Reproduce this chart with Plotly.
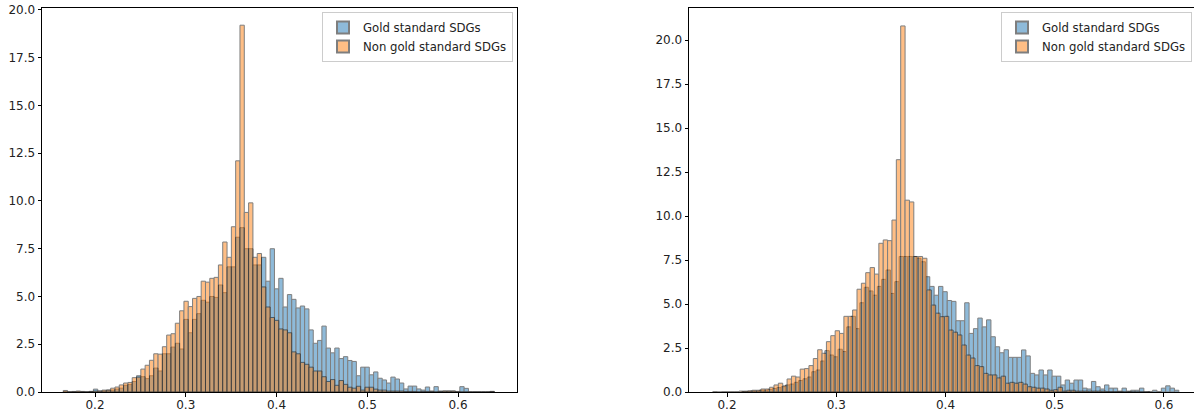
import plotly.graph_objects as go

# ---------------- data (density histograms, 100 bins each) ----------------
# Left panel
left_bin_start = 0.165
left_bin_width = 0.00475
left_gold = [
    0, 0, 0, 0, 0, 0, 0.03, 0.15, 0.05, 0.05,
    0.1, 0.1, 0.15, 0.2, 0.35, 0.4, 0.55, 0.85, 0.8, 0.7,
    0.85, 1.25, 1.1, 2.0, 2.0, 2.35, 2.55, 2.25, 3.8, 3.1,
    3.8, 4.1, 4.8, 4.7, 5.0, 4.95, 5.6, 5.2, 6.55, 6.55,
    8.1, 8.6, 7.5, 7.5, 6.65, 6.65, 7.05, 5.8, 7.5, 5.4,
    5.95, 4.45, 5.1, 4.85, 4.4, 4.5, 4.35, 3.25, 2.55, 2.7,
    3.45, 2.3, 2.05, 2.3, 1.75, 1.85, 1.65, 1.6, 0.85, 1.3,
    1.3, 0.9, 1.05, 0.72, 0.63, 0.47, 0.78, 0.68, 0.47, 0.16,
    0.31, 0.31, 0.16, 0.1, 0.26, 0.05, 0.28, 0.05, 0.05, 0.05,
    0.05, 0, 0.28, 0.19, 0, 0, 0, 0, 0, 0.03,
]
left_non_gold = [
    0.08, 0, 0.03, 0.05, 0.03, 0, 0.03, 0.05, 0.05, 0.1,
    0.1, 0.2, 0.26, 0.37, 0.47, 0.5, 0.75, 0.78, 1.2, 1.4,
    1.66, 2.0, 1.98, 2.37, 2.98, 3.05, 3.6, 4.25, 4.75, 4.47,
    4.9, 5.0, 5.8, 5.75, 5.95, 6.0, 6.65, 7.85, 7.05, 8.65,
    12.1, 19.2, 9.4, 9.9, 7.05, 7.25, 5.5, 4.45, 3.9, 3.75,
    3.3, 3.25, 3.1, 2.1, 2.0, 1.55, 1.45, 1.3, 1.1, 1.1,
    0.8, 0.55, 0.65, 0.35, 0.6, 0.4, 0.25, 0.2, 0.3, 0.1,
    0.25, 0.25, 0.15, 0.1, 0.1, 0.05, 0.05, 0.05, 0.05, 0.03,
    0.03, 0.03, 0, 0.03, 0.03, 0.03, 0, 0.03, 0.05, 0.05,
    0.05, 0.03, 0, 0, 0, 0, 0, 0, 0, 0.03,
]

# Right panel
right_gold_bin_start = 0.2136
right_gold_bin_width = 0.004
right_gold = [
    0.02, 0.02, 0.05, 0.05, 0.1, 0.1, 0.15, 0.2, 0.25, 0.3,
    0.4, 0.45, 0.55, 0.65, 0.75, 0.85, 1.15, 1.25, 1.76, 2.35,
    2.1, 2.0, 2.43, 2.3, 3.7, 4.3, 3.6, 5.07, 5.95, 5.74,
    5.5, 6.0, 6.4, 6.93, 5.6, 6.27, 7.7, 7.7, 7.7, 7.7,
    7.6, 7.4, 6.55, 6.0, 5.5, 6.0, 5.7, 5.2, 5.15, 4.05,
    4.05, 5.07, 3.33, 3.6, 4.2, 3.7, 4.1, 3.14, 2.57, 2.23,
    2.4, 1.97, 1.97, 1.97, 2.39, 2.05, 1.06, 0.97, 1.25, 0.97,
    1.25, 0.9, 0.9, 0.4, 0.68, 0.5, 0.68, 0.68, 0.22, 0.17,
    0.6, 0.3, 0.17, 0.4, 0.22, 0.22, 0.05, 0.22, 0.05, 0.1,
    0.1, 0.22, 0, 0.03, 0.1, 0.03, 0.22, 0.35, 0.22, 0.1,
]
right_non_gold_bin_start = 0.187
right_non_gold_bin_width = 0.004
right_non_gold = [
    0.02, 0, 0.02, 0.02, 0.02, 0.02, 0.05, 0.05, 0.07, 0.1,
    0.1, 0.17, 0.17, 0.27, 0.4, 0.5, 0.35, 0.74, 0.9, 0.85,
    1.3, 1.33, 1.5, 1.9, 2.4, 2.2, 2.86, 3.2, 3.48, 3.33,
    4.3, 4.3, 4.66, 5.84, 6.18, 6.78, 7.07, 6.7, 8.45, 8.64,
    8.6, 9.77, 13.2, 20.8, 10.9, 10.8, 7.7, 7.7, 7.6, 5.8,
    4.94, 4.48, 4.28, 4.3, 3.52, 3.4, 3.24, 2.67, 2.1, 1.93,
    1.5, 1.44, 1.06, 0.97, 0.97, 0.8, 0.9, 0.5, 0.55, 0.5,
    0.55, 0.45, 0.3, 0.27, 0.22, 0.22, 0.17, 0.1, 0.13, 0.27,
    0.05, 0.1, 0.1, 0.05, 0.05, 0.05, 0.05, 0.05, 0.05, 0.05,
    0.02, 0.02, 0.02, 0.02, 0, 0.02, 0, 0, 0, 0,
]

series_names = ["Gold standard SDGs", "Non gold standard SDGs"]
series_colors = ["#1f77b4", "#ff7f0e"]

# ---------------- figure ----------------
W, H = 1194, 412


def centers(start, width, vals):
    return [start + width * (k + 0.5) for k in range(len(vals))]


fig = go.Figure()

panels = [
    dict(xa="x", ya="y", legend="legend",
         data=[(left_bin_start, left_bin_width, left_gold),
               (left_bin_start, left_bin_width, left_non_gold)]),
    dict(xa="x2", ya="y2", legend="legend2",
         data=[(right_gold_bin_start, right_gold_bin_width, right_gold),
               (right_non_gold_bin_start, right_non_gold_bin_width, right_non_gold)]),
]

for p in panels:
    for (start, width, vals), name, color in zip(p["data"], series_names, series_colors):
        fig.add_trace(go.Bar(
            x=centers(start, width, vals), y=vals, width=width,
            name=name, marker=dict(color=color, line=dict(color="black", width=1)),
            opacity=0.5, xaxis=p["xa"], yaxis=p["ya"], legend=p["legend"],
            hoverinfo="x+y",
        ))

axis_common = dict(showline=True, linecolor="black", linewidth=1, mirror=True,
                   ticks="outside", ticklen=3.5, tickwidth=1, tickcolor="black",
                   showgrid=False, zeroline=False, automargin=False,
                   ticklabeloverflow="allow",
                   tickfont=dict(family="DejaVu Sans", size=12, color="#222222"))
xaxis_extra = dict(tick0=0.2, dtick=0.1, tickformat=".1f", ticklabelstandoff=-2)
yaxis_extra = dict(tick0=0, dtick=2.5, tickformat=".1f")

ydom = [(H - 392) / H, (H - 8) / H]
legend_style = dict(bgcolor="rgba(255,255,255,0.8)", bordercolor="#cccccc", borderwidth=1,
                    font=dict(family="DejaVu Sans", size=11.7, color="#222222"),
                    tracegroupgap=0, itemsizing="constant",
                    xanchor="right", yanchor="top", y=(H - 12) / H)

fig.update_layout(
    width=W, height=H,
    margin=dict(l=0, r=0, t=0, b=0, autoexpand=False),
    paper_bgcolor="white", plot_bgcolor="white",
    barmode="overlay",
    font=dict(family="DejaVu Sans", size=11, color="#222222"),
    xaxis=dict(domain=[42 / W, 517 / W], range=[0.1416, 0.665], anchor="y",
               **xaxis_extra, **axis_common),
    yaxis=dict(domain=ydom, range=[0, 20.1], anchor="x",
               **yaxis_extra, **axis_common),
    xaxis2=dict(domain=[689 / W, 1.0], range=[0.1652, 0.6275], anchor="y2",
                **xaxis_extra, **axis_common),
    yaxis2=dict(domain=ydom, range=[0, 21.82], anchor="x2",
                **yaxis_extra, **axis_common),
    legend=dict(x=513 / W, **legend_style),
    legend2=dict(x=1192 / W, **legend_style),
    showlegend=True,
)

# remove the default 8px page margin so the figure fills the window exactly
fig.write_html("out.html", config={"displayModeBar": False},
               post_script="document.body.style.margin='0';")
